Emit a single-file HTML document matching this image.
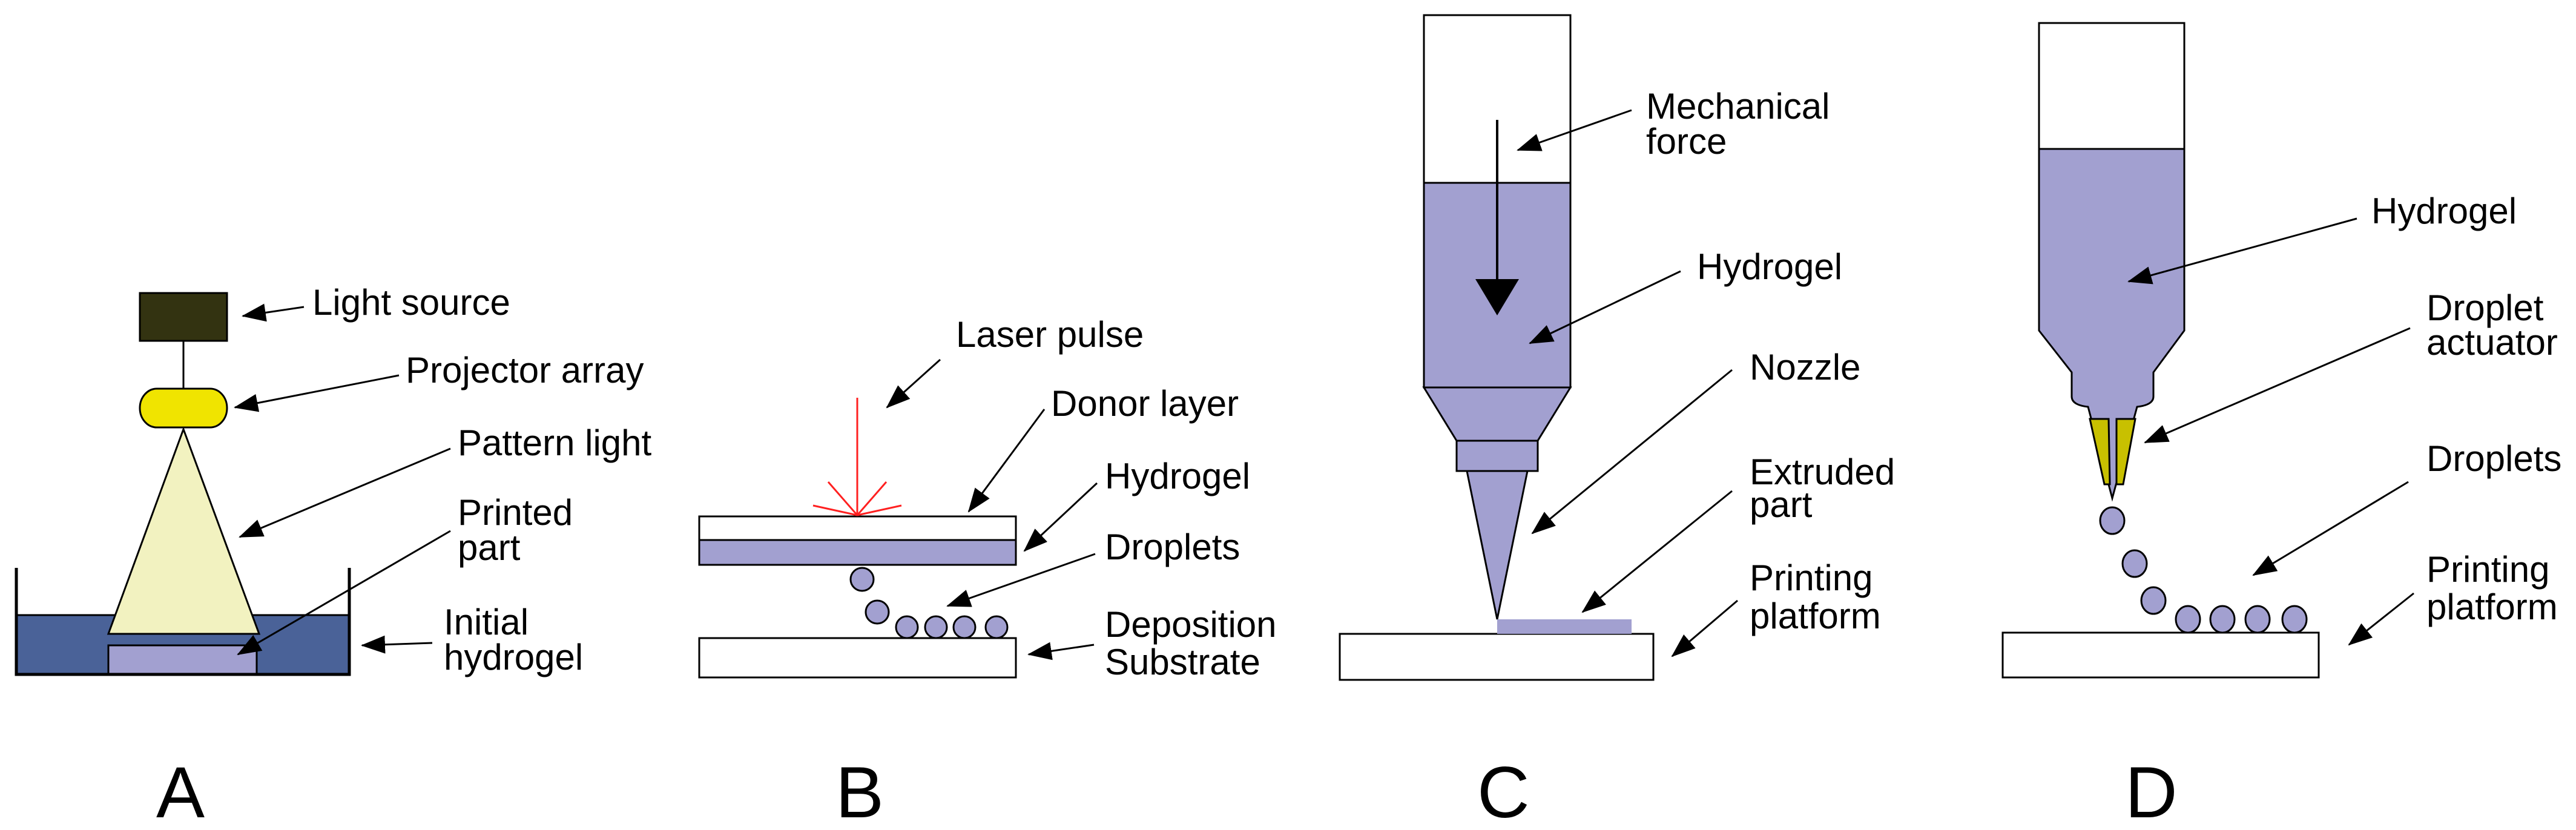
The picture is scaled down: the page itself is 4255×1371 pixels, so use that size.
<!DOCTYPE html>
<html><head><meta charset="utf-8"><style>
html,body{margin:0;padding:0;background:#fff;}
svg{display:block;}
text{font-family:"Liberation Sans",sans-serif;font-size:60px;fill:#000;}
.L{font-size:120px;}
</style></head><body>
<svg width="4255" height="1371" viewBox="0 0 4255 1371" xmlns="http://www.w3.org/2000/svg">
<defs>
<marker id="a" viewBox="0 0 40 30" refX="38" refY="15" markerWidth="40" markerHeight="30" orient="auto" markerUnits="userSpaceOnUse">
<path d="M0,0 L40,15 L0,30 Z" fill="#000"/>
</marker>
</defs>

<!-- Panel A -->
<g stroke="#000" stroke-width="3">
<rect x="231" y="484" width="144" height="79" fill="#333311"/>
<line x1="303" y1="563" x2="303" y2="642"/>
<rect x="231" y="642" width="144" height="64" rx="28" ry="32" fill="#f0e400"/>
<rect x="27" y="1016" width="550" height="98" fill="#4a6298" stroke="none"/>
<line x1="27" y1="1016" x2="577" y2="1016"/>
<polygon points="303,709 179,1047 428,1047" fill="#f2f2c0"/>
<rect x="179" y="1066" width="245" height="48" fill="#a2a0d0"/>
<polyline points="27,938 27,1114 577,1114 577,938" fill="none" stroke-width="5"/>
</g>
<text x="516" y="520">Light source</text>
<text x="670" y="632">Projector array</text>
<text x="756" y="752">Pattern light</text>
<text x="756" y="867">Printed</text>
<text x="756" y="925">part</text>
<text x="733" y="1048">Initial</text>
<text x="733" y="1106">hydrogel</text>

<!-- Panel B -->
<g stroke="#000" stroke-width="3">
<rect x="1155" y="853" width="523" height="39" fill="#fff"/>
<rect x="1155" y="892" width="523" height="41" fill="#a2a0d0"/>
<rect x="1155" y="1054" width="523" height="65" fill="#fff"/>
<g fill="#a2a0d0">
<circle cx="1424" cy="957" r="19"/>
<circle cx="1449" cy="1011" r="19"/>
<circle cx="1498" cy="1036" r="18"/>
<circle cx="1546" cy="1036" r="18"/>
<circle cx="1593" cy="1036" r="18"/>
<circle cx="1646" cy="1036" r="18"/>
</g>
</g>
<g stroke="#ff2020" stroke-width="3">
<line x1="1416" y1="657" x2="1416" y2="851"/>
<line x1="1416" y1="851" x2="1368" y2="796"/>
<line x1="1416" y1="851" x2="1464" y2="796"/>
<line x1="1416" y1="851" x2="1343" y2="835"/>
<line x1="1416" y1="851" x2="1489" y2="835"/>
</g>
<text x="1579" y="573">Laser pulse</text>
<text x="1736" y="687">Donor layer</text>
<text x="1825" y="807">Hydrogel</text>
<text x="1825" y="924">Droplets</text>
<text x="1825" y="1052">Deposition</text>
<text x="1825" y="1114">Substrate</text>

<!-- Panel C -->
<g stroke="#000" stroke-width="3">
<rect x="2352" y="25" width="242" height="277" fill="#fff"/>
<rect x="2352" y="302" width="242" height="338" fill="#a2a0d0"/>
<polygon points="2352,640 2594,640 2540,728 2406,728" fill="#a2a0d0"/>
<rect x="2406" y="728" width="134" height="50" fill="#a2a0d0"/>
<polygon points="2423,778 2523,778 2473,1023" fill="#a2a0d0"/>
<rect x="2213" y="1047" width="518" height="76" fill="#fff"/>
<line x1="2473" y1="198" x2="2473" y2="465" stroke-width="4"/>
</g>
<rect x="2473" y="1023" width="222" height="24" fill="#a2a0d0"/>
<polygon points="2437,461 2509,461 2473,521" fill="#000"/>
<text x="2719" y="196">Mechanical</text>
<text x="2719" y="254">force</text>
<text x="2803" y="461">Hydrogel</text>
<text x="2890" y="627">Nozzle</text>
<text x="2890" y="800">Extruded</text>
<text x="2890" y="854">part</text>
<text x="2890" y="975">Printing</text>
<text x="2890" y="1038">platform</text>

<!-- Panel D -->
<g stroke="#000" stroke-width="3">
<rect x="3368" y="38" width="240" height="208" fill="#fff"/>
<path d="M3368,246 L3608,246 L3608,546 L3557,615 L3557,655 Q3557,669 3530,672 L3489,823 L3449,672 Q3422,669 3422,655 L3422,615 L3368,546 Z" fill="#a2a0d0"/>
<polygon points="3452,692 3483,692 3485,800 3476,800" fill="#c8c000"/>
<polygon points="3496,692 3527,692 3507,800 3496,800" fill="#c8c000"/>
<rect x="3308" y="1045" width="522" height="74" fill="#fff"/>
<g fill="#a2a0d0">
<ellipse cx="3489" cy="860" rx="20" ry="22"/>
<ellipse cx="3526" cy="931" rx="20" ry="22"/>
<ellipse cx="3557" cy="992" rx="20" ry="22"/>
<ellipse cx="3614" cy="1023" rx="20" ry="22"/>
<ellipse cx="3671" cy="1023" rx="20" ry="22"/>
<ellipse cx="3729" cy="1023" rx="20" ry="22"/>
<ellipse cx="3790" cy="1023" rx="20" ry="22"/>
</g>
</g>
<text x="3917" y="369">Hydrogel</text>
<text x="4008" y="529">Droplet</text>
<text x="4008" y="586">actuator</text>
<text x="4008" y="778">Droplets</text>
<text x="4008" y="961">Printing</text>
<text x="4008" y="1023">platform</text>

<!-- Arrows (on top) -->
<g stroke="#000" stroke-width="3" fill="none" marker-end="url(#a)">
<line x1="502" y1="507" x2="401" y2="522"/>
<line x1="659" y1="620" x2="388" y2="673"/>
<line x1="744" y1="741" x2="396" y2="887"/>
<line x1="744" y1="877" x2="393" y2="1081"/>
<line x1="714" y1="1062" x2="598" y2="1066"/>
<line x1="1553" y1="594" x2="1465" y2="673"/>
<line x1="1725" y1="676" x2="1600" y2="845"/>
<line x1="1812" y1="798" x2="1692" y2="910"/>
<line x1="1809" y1="915" x2="1565" y2="1001"/>
<line x1="1807" y1="1065" x2="1699" y2="1081"/>
<line x1="2695" y1="182" x2="2507" y2="248"/>
<line x1="2776" y1="448" x2="2527" y2="567"/>
<line x1="2861" y1="611" x2="2531" y2="881"/>
<line x1="2861" y1="811" x2="2614" y2="1011"/>
<line x1="2870" y1="992" x2="2762" y2="1084"/>
<line x1="3893" y1="361" x2="3516" y2="465"/>
<line x1="3981" y1="542" x2="3543" y2="731"/>
<line x1="3978" y1="796" x2="3722" y2="950"/>
<line x1="3987" y1="980" x2="3880" y2="1065"/>
</g>

<!-- Letters -->
<text class="L" x="258" y="1350">A</text>
<text class="L" x="1380" y="1350">B</text>
<text class="L" x="2440" y="1350">C</text>
<text class="L" x="3510" y="1350">D</text>
</svg>
</body></html>
